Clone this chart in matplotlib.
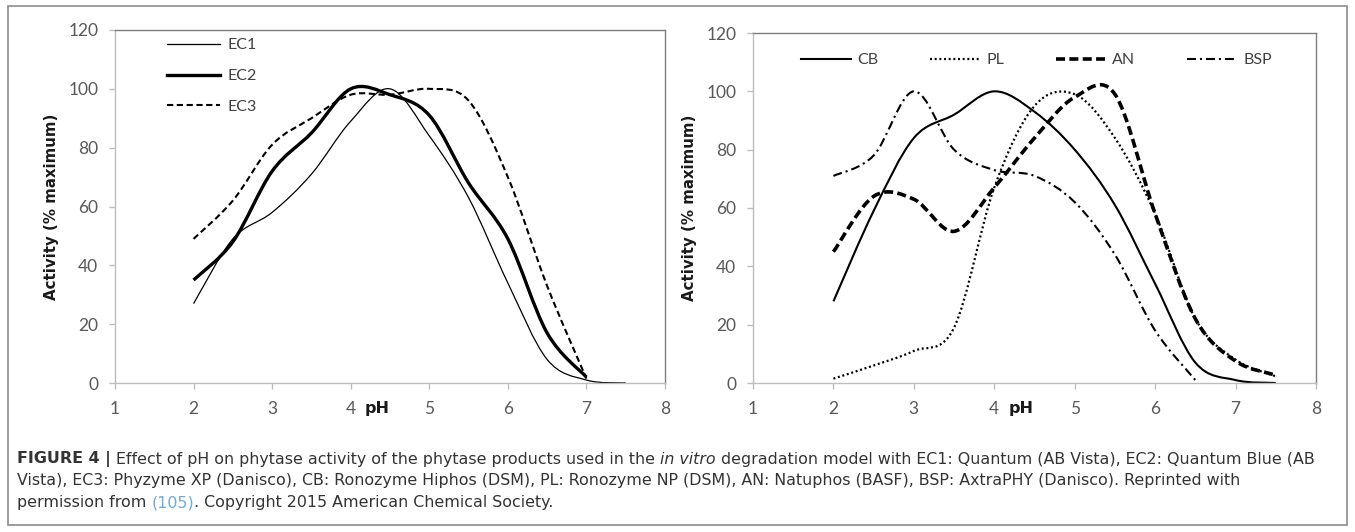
import matplotlib
matplotlib.use("Agg")
import matplotlib.pyplot as plt
from matplotlib.path import Path
from matplotlib.patches import PathPatch, Rectangle
from matplotlib.lines import Line2D
import matplotlib.transforms as mtransforms

# pH values (0.5 steps) and activity (% maximum)
ph = [2, 2.5, 3, 3.5, 4, 4.5, 5, 5.5, 6, 6.5, 7, 7.5]
ec1 = [27, 49, 58, 71, 89, 100, 84, 63, 34, 8, 1, 0]
ec2 = [35, 48, 72, 85, 100, 98, 91, 68, 49, 17, 2]
ec3 = [49, 62, 81, 90, 98, 98, 100, 96, 70, 33, 1.5]

cb = [28, 59, 84, 92, 100, 93, 80, 61, 34, 7, 1, 0]
pl = [1.5, 6, 11, 19, 67, 95, 99, 84, 58, 22, 8, 2.3]
an = [45, 64, 63, 52, 67, 84, 98, 99, 58, 22, 7.5, 2.7]
bsp = [71, 78, 100, 80, 73, 71, 62, 44, 18, 1]

left_series = [("EC1", ec1, dict(lw=0.9, ls="-")),
               ("EC2", ec2, dict(lw=2.4, ls="-")),
               ("EC3", ec3, dict(lw=1.5, ls=(0, (3, 1.7))))]
right_series = [("CB", cb, dict(lw=1.5, ls="-")),
                ("PL", pl, dict(lw=1.6, ls=(0, (0.9, 1.2)))),
                ("AN", an, dict(lw=2.6, ls=(0, (2.5, 1.2)))),
                ("BSP", bsp, dict(lw=1.5, ls=(0, (4.3, 1.9, 1, 1.9))))]

TICK_FONT = "Lato"
GRAY = "#595959"


def smooth_path(x, y):
    # Excel style smoothed line: cubic Bezier through every point
    n = len(y)
    x = x[:n]
    verts = [(x[0], y[0])]
    codes = [Path.MOVETO]
    for i in range(n - 1):
        xp, yp = (x[i - 1], y[i - 1]) if i > 0 else (x[i], y[i])
        xn, yn = (x[i + 2], y[i + 2]) if i + 2 < n else (x[i + 1], y[i + 1])
        c1 = (x[i] + (x[i + 1] - xp) / 6, y[i] + (y[i + 1] - yp) / 6)
        c2 = (x[i + 1] - (xn - x[i]) / 6, y[i + 1] - (yn - y[i]) / 6)
        verts += [c1, c2, (x[i + 1], y[i + 1])]
        codes += [Path.CURVE4] * 3
    return Path(verts, codes)


def style_axes(ax):
    ax.set_xlim(1, 8)
    ax.set_ylim(0, 120)
    ax.set_xticks(range(1, 9))
    ax.set_yticks(range(0, 121, 20))
    for s in ["left", "bottom"]:
        ax.spines[s].set_color("#bdbdbd")
        ax.spines[s].set_linewidth(1.0)
    for s in ["top", "right"]:
        ax.spines[s].set_color("#7f7f7f")
        ax.spines[s].set_linewidth(1.0)
    ax.tick_params(axis="both", direction="out", length=4, width=1.0,
                   color="#bdbdbd", labelcolor=GRAY, labelsize=12.5)
    ax.tick_params(axis="x", pad=9)
    ax.tick_params(axis="y", pad=8)
    for lab in ax.get_xticklabels() + ax.get_yticklabels():
        lab.set_fontfamily(TICK_FONT)
    ax.set_ylabel("Activity (% maximum)", fontsize=10.8, fontweight="bold",
                  color="#1a1a1a", labelpad=7)
    trans = mtransforms.blended_transform_factory(ax.transData, ax.transAxes)
    ax.text(4.33, -0.072, "pH", transform=trans, ha="center", va="center",
            fontsize=11.5, fontweight="bold", color="#1a1a1a")


def draw(ax, series):
    handles = []
    for name, vals, st in series:
        patch = PathPatch(smooth_path(ph, vals), fill=False, edgecolor="black",
                          lw=st["lw"], ls=st["ls"], capstyle="butt",
                          joinstyle="round")
        ax.add_patch(patch)
        handles.append(Line2D([], [], color="black", lw=st["lw"], ls=st["ls"],
                              dash_capstyle="butt", label=name))
    return handles


fig = plt.figure(figsize=(13.55, 5.32), dpi=100)
W, H = 1355, 532

ax1 = fig.add_axes([115 / W, 1 - 383 / H, 550 / W, 353 / H])
ax2 = fig.add_axes([753 / W, 1 - 383 / H, 563 / W, 350 / H])

h1 = draw(ax1, left_series)
h2 = draw(ax2, right_series)
style_axes(ax1)
style_axes(ax2)

leg1 = ax1.legend(handles=h1, loc="upper left",
                  bbox_to_anchor=(167 / W, 1 - 38 / H), bbox_transform=fig.transFigure,
                  frameon=False, handlelength=3.3, handletextpad=0.5,
                  labelspacing=1.05, borderaxespad=0, borderpad=0,
                  prop={"family": TICK_FONT, "size": 11.5})
leg2 = ax2.legend(handles=h2, loc="upper left", ncol=4,
                  bbox_to_anchor=(801 / W, 1 - 53 / H), bbox_transform=fig.transFigure,
                  frameon=False, handlelength=3.1, handletextpad=0.45,
                  columnspacing=3.2, borderaxespad=0, borderpad=0,
                  prop={"family": TICK_FONT, "size": 11.5})
for leg in (leg1, leg2):
    for t in leg.get_texts():
        t.set_color("#404040")

# outer frame around chart and caption
fig.patches.append(Rectangle((8 / W, 1 - 525 / H), 1339 / W, 519 / H,
                             transform=fig.transFigure, fill=False,
                             edgecolor="#8c8c8c", lw=1.2))

# caption: pieces chained left to right so bold / italic / colour can change
CAP = ["DejaVu Sans"]
CAP_COLOR = "#333333"
CAP_SIZE = 11.45
caption_lines = [
    [("FIGURE 4 | ", "bold", "normal", CAP_COLOR),
     ("Effect of pH on phytase activity of the phytase products used in the ", "normal", "normal", CAP_COLOR),
     ("in vitro", "normal", "italic", CAP_COLOR),
     (" degradation model with EC1: Quantum (AB Vista), EC2: Quantum Blue (AB", "normal", "normal", CAP_COLOR)],
    [("Vista), EC3: Phyzyme XP (Danisco), CB: Ronozyme Hiphos (DSM), PL: Ronozyme NP (DSM), "
      "AN: Natuphos (BASF), BSP: AxtraPHY (Danisco). Reprinted with", "normal", "normal", CAP_COLOR)],
    [("permission from ", "normal", "normal", CAP_COLOR),
     ("(105)", "normal", "normal", "#6fa8dc"),
     (". Copyright 2015 American Chemical Society.", "normal", "normal", CAP_COLOR)],
]
line_y = [459, 481, 503]

for segs, yy in zip(caption_lines, line_y):
    text, weight, style, col = segs[0]
    anchor = fig.text(17 / W, 1 - yy / H, text, fontsize=CAP_SIZE, family=CAP,
                      fontweight=weight, fontstyle=style, color=col,
                      va="center", ha="left")
    for text, weight, style, col in segs[1:]:
        anchor = ax1.annotate(text, xy=(1, 0), xycoords=anchor,
                              va="bottom", ha="left", fontsize=CAP_SIZE,
                              family=CAP, fontweight=weight, fontstyle=style,
                              color=col, annotation_clip=False)

fig.savefig("out.png", dpi=100)
